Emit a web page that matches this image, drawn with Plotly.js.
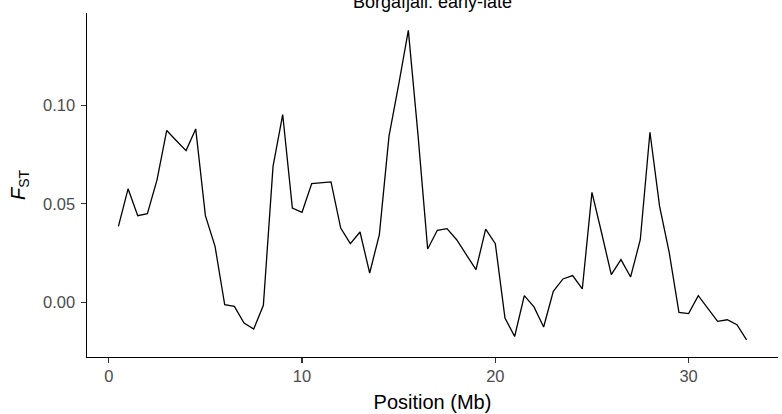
<!DOCTYPE html>
<html>
<head>
<meta charset="utf-8">
<script src="https://cdn.plot.ly/plotly-3.0.1.min.js"></script>
<style>
  html, body { margin: 0; padding: 0; background: #ffffff; }
  #chart { width: 782px; height: 414px; }
</style>
</head>
<body>
<div id="chart"></div>
<script>
// Window positions along the chromosome (Mb)
const positionMb = [
  0.5, 1.0, 1.5, 2.0, 2.5, 3.0, 3.5, 4.0, 4.5, 5.0,
  5.5, 6.0, 6.5, 7.0, 7.5, 8.0, 8.5, 9.0, 9.5, 10.0,
  10.5, 11.0, 11.5, 12.0, 12.5, 13.0, 13.5, 14.0, 14.5, 15.0,
  15.5, 16.0, 16.5, 17.0, 17.5, 18.0, 18.5, 19.0, 19.5, 20.0,
  20.5, 21.0, 21.5, 22.0, 22.5, 23.0, 23.5, 24.0, 24.5, 25.0,
  25.5, 26.0, 26.5, 27.0, 27.5, 28.0, 28.5, 29.0, 29.5, 30.0,
  30.5, 31.0, 31.5, 32.0, 32.5, 33.0
];

// Windowed FST between early and late spawners
const fst = [
  0.0386, 0.0576, 0.0440, 0.0450, 0.0623, 0.0872, 0.0820, 0.0770, 0.0880, 0.0440,
  0.0284, -0.0012, -0.0020, -0.0105, -0.0135, -0.0015, 0.0690, 0.0953, 0.0479, 0.0457,
  0.0603, 0.0607, 0.0611, 0.0377, 0.0298, 0.0357, 0.0149, 0.0344, 0.0843, 0.1105,
  0.1380, 0.0850, 0.0271, 0.0366, 0.0374, 0.0318, 0.0242, 0.0166, 0.0372, 0.0298,
  -0.0079, -0.0173, 0.0034, -0.0023, -0.0125, 0.0056, 0.0119, 0.0136, 0.0068, 0.0558,
  0.0352, 0.0141, 0.0217, 0.0129, 0.0318, 0.0863, 0.0487, 0.0251, -0.0051, -0.0057,
  0.0034, -0.0034, -0.0096, -0.0088, -0.0113, -0.0190
];

const xTicks = [0, 10, 20, 30];
const yTicks = [0.00, 0.05, 0.10];
const yTickText = ['0.00', '0.05', '0.10'];

const trace = {
  x: positionMb,
  y: fst,
  type: 'scatter',
  mode: 'lines',
  line: { color: '#000000', width: 1.3 },
  hoverinfo: 'x+y'
};

const tickFont = { family: 'Liberation Sans, Arial, sans-serif', size: 16.5, color: '#4D4D4D' };
const titleFont = { family: 'Liberation Sans, Arial, sans-serif', size: 20, color: '#000000' };

const layout = {
  width: 782,
  height: 414,
  paper_bgcolor: '#ffffff',
  plot_bgcolor: '#ffffff',
  margin: { l: 87, r: 4, t: 13, b: 57 },
  showlegend: false,
  title: {
    text: 'Borgafjäll: early-late',
    font: { family: 'Liberation Sans, Arial, sans-serif', size: 18, color: '#000000' },
    xref: 'paper',
    x: 0.5,
    xanchor: 'center',
    yref: 'container',
    y: 1 - 8 / 414,
    yanchor: 'bottom'
  },
  xaxis: {
    range: [-1.125, 34.625],
    tickmode: 'array',
    tickvals: xTicks,
    ticktext: xTicks.map(String),
    showgrid: false,
    zeroline: false,
    showline: true,
    linecolor: '#000000',
    linewidth: 1.1,
    ticks: 'outside',
    ticklen: 4.5,
    tickwidth: 1.1,
    tickcolor: '#333333',
    tickfont: tickFont,
    title: { text: 'Position (Mb)', font: titleFont, standoff: 10 }
  },
  yaxis: {
    range: [-0.0277, 0.1468],
    tickmode: 'array',
    tickvals: yTicks,
    ticktext: yTickText,
    showgrid: false,
    zeroline: false,
    showline: true,
    linecolor: '#000000',
    linewidth: 1.1,
    ticks: 'outside',
    ticklen: 4.5,
    tickwidth: 1.1,
    tickcolor: '#333333',
    tickfont: tickFont,
    ticklabelstandoff: 3,
    title: { text: '<i>F</i><sub>ST</sub>', font: titleFont, standoff: 12 }
  }
};

Plotly.newPlot('chart', [trace], layout, { displayModeBar: false, staticPlot: true });
</script>
</body>
</html>
